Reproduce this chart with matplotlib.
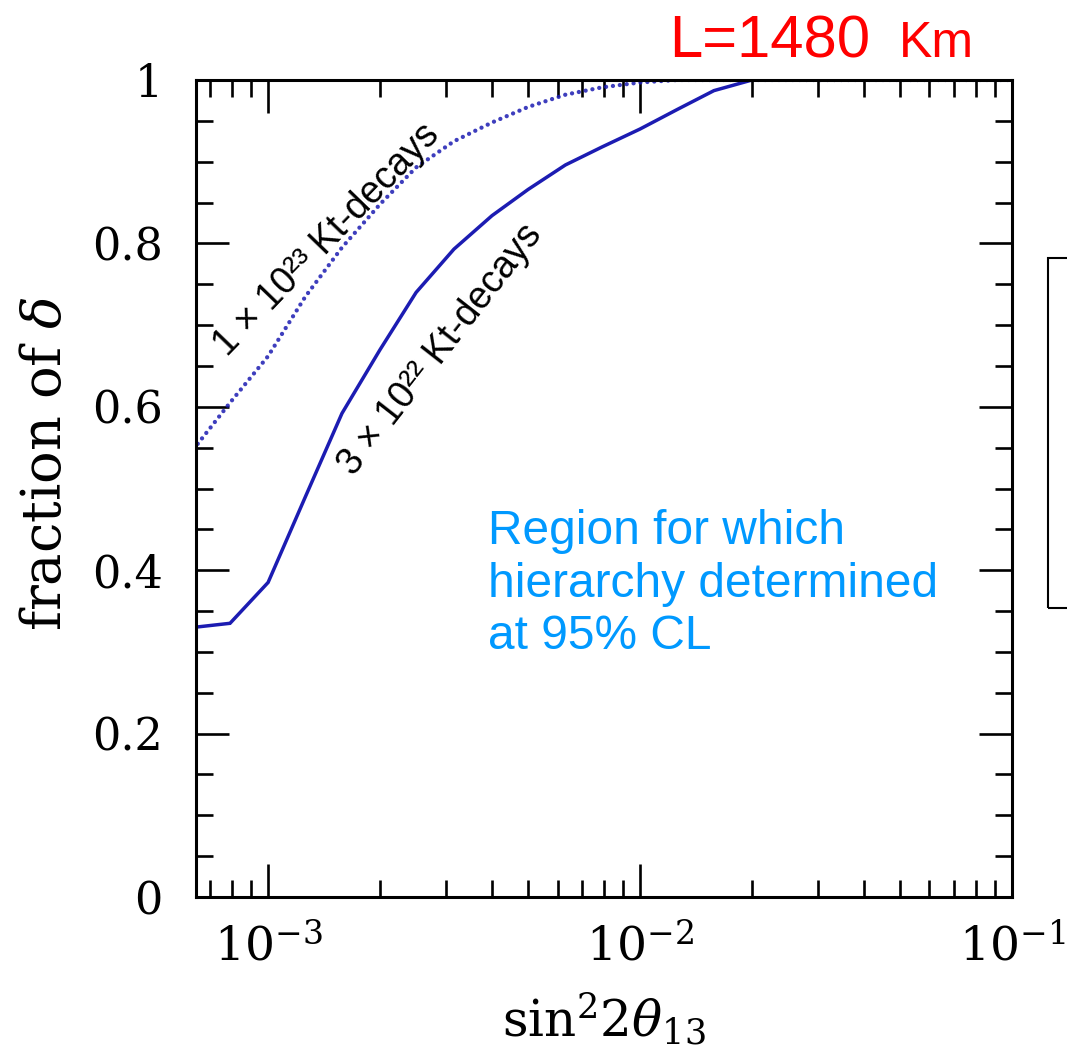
import numpy as np
import matplotlib
matplotlib.use('Agg')
import matplotlib.pyplot as plt
from matplotlib.ticker import MultipleLocator, FixedLocator, FixedFormatter, LogLocator
from matplotlib.patches import Rectangle

# =========================
# DATA
# =========================

sin2_2theta = [6.3e-4, 7.9e-4, 1.0e-3, 1.26e-3, 1.58e-3, 2.0e-3, 2.5e-3, 3.16e-3,
               4.0e-3, 5.0e-3, 6.3e-3, 7.9e-3, 1.0e-2, 1.26e-2, 1.58e-2, 2.0e-2, 1.0e-1]

# 3 x 10^22 Kt-decays (solid)
frac_3e22 = [0.330, 0.335, 0.385, 0.490, 0.592, 0.670, 0.740, 0.793,
             0.834, 0.866, 0.896, 0.918, 0.940, 0.964, 0.987, 1.0, 1.0]

# 1 x 10^23 Kt-decays (dotted)
frac_1e23 = [0.548, 0.605, 0.662, 0.735, 0.795, 0.848, 0.893, 0.925,
             0.948, 0.967, 0.982, 0.991, 0.997, 1.0, 1.0, 1.0, 1.0]

y_ticks = [0, 0.2, 0.4, 0.6, 0.8, 1.0]
y_tick_labels = ['0', '0.2', '0.4', '0.6', '0.8', '1']

# =========================
# STYLE
# =========================

plt.rcParams['font.family'] = ['DejaVu Serif']
plt.rcParams['mathtext.fontset'] = 'dejavuserif'

LINE_COLOR = '#1c1cb2'
SANS = ['Liberation Sans', 'DejaVu Sans']

fig = plt.figure(figsize=(10.67, 10.5), dpi=100)
ax = fig.add_axes([196 / 1067, 1 - 897 / 1050, (1012 - 196) / 1067, (897 - 80) / 1050])

ax.plot(sin2_2theta, frac_3e22, color=LINE_COLOR, lw=2.5, solid_joinstyle='miter')
ax.plot(sin2_2theta, frac_1e23, color=LINE_COLOR, lw=3.1, linestyle=(0, (0.01, 1.6)),
        dash_capstyle='round', alpha=0.85)

ax.set_xscale('log')
ax.set_xlim(6.4e-4, 0.1)
ax.set_ylim(0, 1)

ax.yaxis.set_major_locator(FixedLocator(y_ticks))
ax.yaxis.set_major_formatter(FixedFormatter(y_tick_labels))
ax.yaxis.set_minor_locator(MultipleLocator(0.05))
ax.xaxis.set_major_locator(LogLocator(base=10, numticks=10))
ax.xaxis.set_minor_locator(LogLocator(base=10, subs=np.arange(2, 10), numticks=20))

ax.tick_params(which='both', direction='in', top=True, right=True, width=1.9, color='black')
ax.tick_params(which='major', length=24, labelsize=32)
ax.tick_params(which='minor', length=12)
ax.tick_params(axis='y', which='major', pad=24)
ax.tick_params(axis='x', which='major', pad=20)
ax.tick_params(axis='x', which='major', labelsize=34)

for sp in ax.spines.values():
    sp.set_linewidth(2.2)

ax.set_xlabel(r'$\sin^2\!2\theta_{13}$', fontsize=36, labelpad=14)
ax.set_ylabel(r'fraction of $\delta$', fontsize=39)
ax.yaxis.set_label_coords(-0.152, 0.53)

# curve labels
ax.text(1.44e-3, 0.804, '1 \u00d7 10\u00b2\u00b3 Kt-decays', rotation=46, fontsize=27,
        family=SANS, ha='center', va='center')
ax.text(2.9e-3, 0.67, '3 \u00d7 10\u00b2\u00b2 Kt-decays', rotation=52, fontsize=27,
        family=SANS, ha='center', va='center')

ax.text(3.9e-3, 0.475, 'Region for which\nhierarchy determined\nat 95% CL', fontsize=34.5,
        family=SANS, color='#0099ff', ha='left', va='top', linespacing=1.22)

# title
fig.text(669 / 1067, 1 - 57 / 1050, 'L=1480', fontsize=43, family=SANS, color='red',
         ha='left', va='baseline')
fig.text(899 / 1067, 1 - 57 / 1050, 'Km', fontsize=36, family=SANS, color='red',
         ha='left', va='baseline')

# partially visible legend frame at the right edge
fig.patches.append(Rectangle((1048 / 1067, 1 - 608 / 1050), 0.1, (608 - 258) / 1050,
                             transform=fig.transFigure, fill=False, lw=1.5, ec='black'))

fig.savefig('out.png', dpi=100)
